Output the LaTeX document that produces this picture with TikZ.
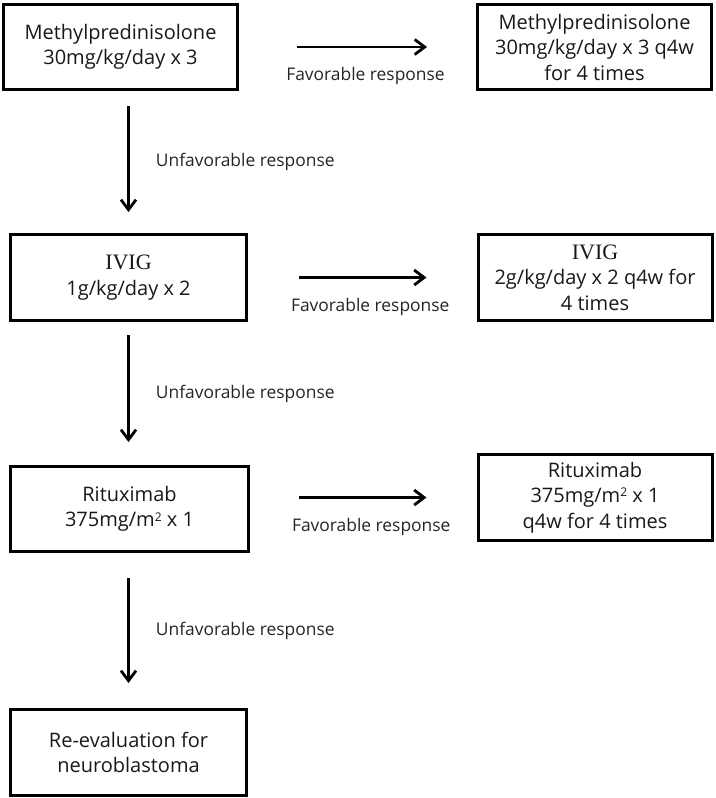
\documentclass[tikz,border=0pt]{standalone}
\usepackage{fontspec}
\setmainfont{Open Sans}
\newfontfamily\serifivig{Liberation Serif}
\newcommand{\ivigtxt}{{\serifivig\fontsize{22}{25.5}\selectfont IVIG}}
\newcommand{\sqsup}{\raisebox{0.55ex}{\fontsize{12}{12}\selectfont 2}}
\usetikzlibrary{arrows.meta}
\begin{document}
\begin{tikzpicture}[x=1pt,y=-1pt,
  box/.style={draw, line width=3pt, align=center, inner sep=0pt, text=black!90,
    font=\fontsize{20}{25.5}\selectfont},
  arr/.style={line width=2.8pt, -{Straight Barb[length=10pt,width=15pt]}},
  lab/.style={inner sep=0pt, text=black!85, font=\fontsize{17.4}{20}\selectfont}]
\useasboundingbox (0,0) rectangle (715,798);
\fill[white] (0,0) rectangle (715,798);
% left column
\node[box, minimum width=234pt, minimum height=85pt] (b1) at (120.5,47) {Methylpredinisolone\\30mg/kg/day x 3};
\node[box, minimum width=236pt, minimum height=86pt] (iv) at (128.5,277.5) {\ivigtxt\\1g/kg/day x 2};
\node[box, minimum width=238pt, minimum height=85pt] (rt) at (129.5,509) {Rituximab\\375mg/m\sqsup{} x 1};
\node[box, minimum width=236pt, minimum height=86pt] (re) at (128.5,752.5) {Re-evaluation for\\neuroblastoma};
% right column
\node[box, minimum width=234pt, minimum height=85pt] (r1) at (594.5,47) {Methylpredinisolone\\30mg/kg/day x 3 q4w\\for 4 times};
\node[box, minimum width=234pt, minimum height=86pt] (r2) at (595,277.5) {\ivigtxt\\2g/kg/day x 2 q4w for\\4 times};
\node[box, minimum width=234pt, minimum height=86pt] (r3) at (595,497.5) {Rituximab\\375mg/m\sqsup{} x 1\\q4w for 4 times};
% horizontal arrows
\draw[arr, shorten <=58pt, shorten >=49pt] (b1.east) -- (b1.east -| r1.west)
  node[lab, pos=0.5, xshift=8pt, yshift=-29pt] {Favorable response};
\draw[arr, shorten <=51pt, shorten >=50pt] (iv.east) -- (iv.east -| r2.west)
  node[lab, pos=0.5, xshift=8pt, yshift=-29pt] {Favorable response};
\draw[arr, shorten <=49pt, shorten >=50pt] (rt.east |- r3.west) -- (r3.west)
  node[lab, pos=0.5, xshift=8pt, yshift=-29pt] {Favorable response};
% vertical arrows
\draw[arr, shorten <=15pt, shorten >=21pt] (b1.south -| iv.north) -- (iv.north)
  node[lab, anchor=west, pos=0.5, xshift=26pt] {Unfavorable response};
\draw[arr, shorten <=13pt, shorten >=23pt] (iv.south) -- (iv.south |- rt.north)
  node[lab, anchor=west, pos=0.5, xshift=26pt] {Unfavorable response};
\draw[arr, shorten <=25pt, shorten >=25pt] (rt.south -| re.north) -- (re.north)
  node[lab, anchor=west, pos=0.5, xshift=26pt] {Unfavorable response};
\end{tikzpicture}
\end{document}
